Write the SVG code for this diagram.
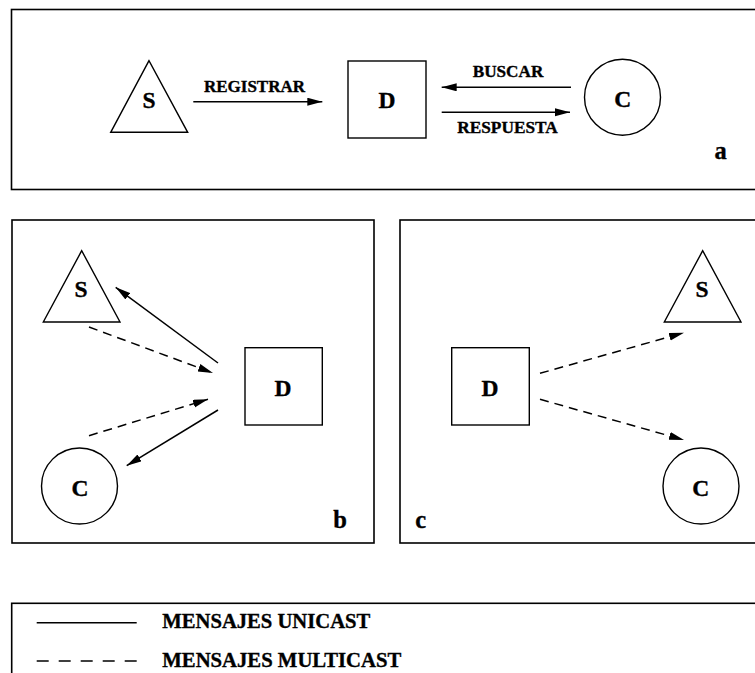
<svg xmlns="http://www.w3.org/2000/svg" width="755" height="673" viewBox="0 0 755 673">
<style>
  .frame{fill:none;stroke:#000;stroke-width:1.6}
  .shape{fill:#fff;stroke:#000;stroke-width:1.4}
  text{font-family:'Liberation Serif',serif;font-weight:bold;fill:#000;stroke:#000;stroke-width:0.35}
  .node{font-size:23.5px;text-anchor:middle}
  .lbl{font-size:17.5px;text-anchor:middle}
  .panel{font-size:24.5px;text-anchor:middle}
  .leg{font-size:20.5px}
  .uni{fill:none;stroke:#000;stroke-width:1.5;marker-end:url(#ah)}
  .multi{fill:none;stroke:#000;stroke-width:1.5;stroke-dasharray:9 6;marker-end:url(#ah)}
</style>
<defs>
  <marker id="ah" markerUnits="userSpaceOnUse" markerWidth="16" markerHeight="9" refX="15" refY="4" orient="auto" viewBox="0 0 16 9">
    <path d="M0,0 L15,4 L0,8 z" fill="#000"/>
  </marker>
</defs>
<rect width="755" height="673" fill="#fff"/>

<g id="frames">
  <rect class="frame" x="11.5" y="9.5" width="760" height="180"/>
  <rect class="frame" x="12" y="220" width="362" height="323"/>
  <rect class="frame" x="400" y="220" width="370" height="323"/>
  <rect class="frame" x="11.7" y="603.3" width="760" height="100"/>
</g>

<g id="a-S"><polygon class="shape" points="149,60.7 110.7,132.3 187.7,132.3"/><text class="node" x="149" y="107.5">S</text></g>
<g id="a-D"><rect class="shape" x="348" y="61" width="78" height="77"/><text class="node" x="387" y="108">D</text></g>
<g id="a-C"><circle class="shape" cx="622.5" cy="97.2" r="38"/><text class="node" x="622.7" y="107">C</text></g>

<g id="b-S"><polygon class="shape" points="81.7,250.7 43.3,322 120,322"/><text class="node" x="81" y="296.5">S</text></g>
<g id="b-D"><rect class="shape" x="245" y="347.7" width="77.3" height="77.3"/><text class="node" x="283" y="396">D</text></g>
<g id="b-C"><circle class="shape" cx="79.5" cy="486" r="38"/><text class="node" x="80" y="496">C</text></g>

<g id="c-S"><polygon class="shape" points="702.7,250.7 664.3,322 741,322"/><text class="node" x="702" y="296.5">S</text></g>
<g id="c-D"><rect class="shape" x="451.7" y="347.7" width="77.6" height="77.3"/><text class="node" x="490" y="396">D</text></g>
<g id="c-C"><circle class="shape" cx="701" cy="486" r="38"/><text class="node" x="700.7" y="496">C</text></g>

<g id="connectors">
  <line class="uni" x1="193.3" y1="101.7" x2="322.3" y2="101.7"/>
  <line class="uni" x1="571" y1="87.3" x2="441.7" y2="87.3"/>
  <line class="uni" x1="441.7" y1="112.3" x2="570" y2="112.3"/>

  <line class="uni" x1="218" y1="363" x2="115.7" y2="287.3"/>
  <line class="multi" x1="89" y1="327" x2="213" y2="373"/>
  <line class="multi" x1="89" y1="435.7" x2="208" y2="399.3"/>
  <line class="uni" x1="218" y1="410" x2="126.7" y2="465.7"/>

  <line class="multi" x1="540" y1="373.3" x2="684" y2="332.7"/>
  <line class="multi" x1="540" y1="399.3" x2="684" y2="440"/>
</g>

<g id="labels">
  <text class="lbl" x="254.5" y="91.7" textLength="101" lengthAdjust="spacingAndGlyphs">REGISTRAR</text>
  <text class="lbl" x="508" y="77.3" textLength="70.6" lengthAdjust="spacingAndGlyphs">BUSCAR</text>
  <text class="lbl" x="507.5" y="132.7" textLength="100.4" lengthAdjust="spacingAndGlyphs">RESPUESTA</text>
  <text class="panel" x="720.7" y="159.3">a</text>
  <text class="panel" x="340" y="527.7">b</text>
  <text class="panel" x="420.7" y="527.7">c</text>
</g>

<g id="legend">
  <line x1="36.7" y1="622.7" x2="136.7" y2="622.7" stroke="#000" stroke-width="1.5"/>
  <line x1="36.7" y1="661" x2="136.7" y2="661" stroke="#000" stroke-width="1.5" stroke-dasharray="12 10"/>
  <text class="leg" x="162.3" y="628.3" textLength="208" lengthAdjust="spacingAndGlyphs">MENSAJES UNICAST</text>
  <text class="leg" x="162.3" y="666.7" textLength="239" lengthAdjust="spacingAndGlyphs">MENSAJES MULTICAST</text>
</g>
</svg>
